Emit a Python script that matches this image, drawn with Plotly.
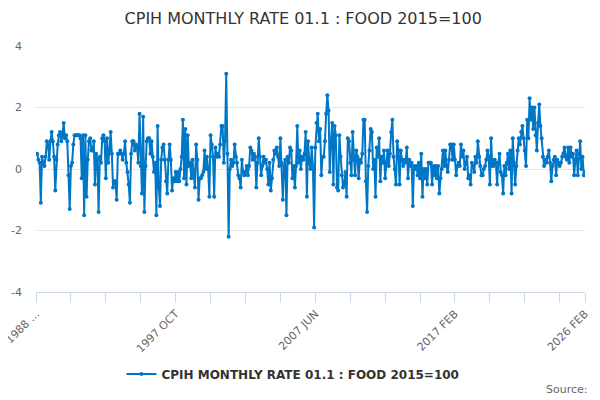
import plotly.graph_objects as go

MONTHS = ["JAN", "FEB", "MAR", "APR", "MAY", "JUN",
          "JUL", "AUG", "SEP", "OCT", "NOV", "DEC"]

# monthly rate (%), one list per year
y1988 = [0.5, 0.5, 0.3, 0.2, -1.1, 0.4, 0.2, 0.1, 0.4, 0.9, 0.8]  # starts FEB
y1989 = [0.3, 0.9, 1.2, 0.9, 0.4, -0.7, 0.3, 0.8, 1.1, 1.2, 0.9, 1.1]
y1990 = [1.5, 1.0, 1.1, 0.9, -0.2, -1.3, 0.1, 0.2, 0.8, 1.1, 1.1, 1.1]
y1991 = [1.1, 1.1, 1.0, -0.3, 1.1, -1.5, 1.1, -0.9, 0.3, 0.9, 1.0, 0.6]
y1992 = [0.6, 0.9, -0.5, 0.5, 0.3, -1.4, 0.4, 0.2, 1.0, 1.1, 0.9, -0.3]
y1993 = [1.0, 0.2, 0.6, 1.2, 0.5, -0.6, -0.4, -0.4, -1.0, 0.5, 0.5, 0.6]
y1994 = [0.5, 0.3, 0.5, 0.9, 0.2, -0.1, -0.5, -1.1, 0.5, 0.9, 0.9, 0.6]
y1995 = [0.8, 0.7, 0.2, 1.8, 0.1, -0.8, 1.7, -1.4, 0.1, 0.9, 1.0, 1.0]
y1996 = [0.5, 0.9, 0.4, -0.1, 0.2, -1.5, 1.4, -0.6, -1.2, 0.3, 0.7, 0.8]
y1997 = [0.3, -0.4, -0.8, 0.3, 0.8, 0.3, -0.7, -0.3, -0.4, -0.1, -0.4, -0.1]
y1998 = [-0.4, 0.0, 0.4, 1.6, -0.3, 1.3, -0.5, 1.1, 0.1, 0.2, -0.3, 0.3]
y1999 = [-0.2, -0.6, 0.8, 0.3, -1.0, -0.3, -0.3, -0.2, -0.1, 0.6, 0.0, 0.4]
y2000 = [0.0, -0.9, 1.1, 0.8, 0.4, -0.9, 0.7, 0.4, 0.5, 0.4, 0.8, 1.4]
y2001 = [1.4, 0.2, 0.9, 3.1, 0.5, -2.2, 0.0, 0.3, 0.1, 0.2, 0.8, 0.4]
y2002 = [0.2, -0.2, -0.3, -0.6, 0.3, -0.1, -0.2, -0.1, 0.1, -0.2, 0.1, 0.7]
y2003 = [0.6, 0.3, 0.5, 0.4, -0.6, 0.2, 1.0, 0.4, -0.2, 0.1, 0.4, 0.2]
y2004 = [0.3, 0.0, -0.5, 0.2, -0.7, -0.3, 0.3, 0.6, 0.5, 0.7, 0.4, 0.1]
y2005 = [1.0, 0.2, -1.0, 0.1, 0.3, -1.5, 0.4, 0.2, 0.7, 0.6, -0.3, 0.1]
y2006 = [-0.6, 0.1, 1.4, 0.2, 0.6, 0.0, 0.4, 0.3, 0.5, 1.2, -0.9, 0.9]
y2007 = [0.2, 0.0, 0.7, 0.1, -1.9, 0.7, 1.5, 1.8, 0.9, 1.3, -0.2, 0.4]
y2008 = [0.4, 0.9, 1.8, 2.4, 1.9, -0.1, 0.9, 1.5, -0.5, 1.4, 1.1, -0.6]
y2009 = [-0.7, 1.1, 0.4, -0.2, -0.6, -0.5, -0.1, -0.9, 1.0, 0.9, 0.2, -0.2]
y2010 = [1.2, 0.3, -0.2, 0.6, 0.4, -0.3, 0.3, 0.2, 0.5, 1.6, 1.6, -0.4]
y2011 = [-1.4, 0.1, 0.6, 1.3, 1.2, 0.0, 0.3, -0.9, 0.7, 0.4, 1.0, -0.4]
y2012 = [0.4, 0.2, 0.6, -0.3, 0.2, 0.6, 0.1, 0.5, 1.2, 1.6, 0.4, 0.0]
y2013 = [-0.5, 0.9, 0.6, -0.5, 0.6, 0.3, 0.1, 0.3, 0.2, 0.7, -0.3, 0.3]
y2014 = [0.1, 0.2, -1.2, 0.1, 0.0, 0.1, -0.2, 0.2, -0.3, 0.5, -0.9, 0.0]
y2015 = [-0.3, 0.0, -0.5, 0.2, 0.2, 0.2, -0.5, 0.1, -0.2, 0.1, -0.3, 0.1]
y2016 = [-0.8, -0.3, 0.0, 0.6, 0.1, 0.6, 0.1, -0.1, 0.3, 0.8, 0.8, 0.3]
y2017 = [0.8, 0.3, -0.2, 0.1, 0.2, 0.1, 0.8, 0.4, 0.6, 0.0, 0.2, 0.4]
y2018 = [-0.3, -0.2, -0.5, 0.2, 0.1, -0.1, 0.4, 0.2, 0.9, 0.4, 0.1, -0.2]
y2019 = [-0.2, 0.0, 0.1, 0.3, 0.6, 0.4, -0.5, 1.0, 0.1, 0.1, 0.3, 0.2]
y2020 = [-0.5, 0.2, 0.5, -0.1, -0.2, -0.8, 0.1, -0.2, 0.2, 0.5, 0.0, 0.6]
y2021 = [-0.8, 1.0, 0.2, -0.5, 0.1, 0.6, 1.0, 0.8, 1.2, 1.4, 1.0, 0.6]
y2022 = [0.1, 1.6, 1.0, 2.3, 1.6, 2.0, 1.3, 2.0, 1.1, 0.6, 1.5, 2.1]
y2023 = [1.4, 1.0, 0.4, 0.1, 0.3, 0.2, 0.4, 0.6, 0.2, -0.4, 0.1, 0.3]
y2024 = [0.4, -0.2, 0.3, 0.2, 0.1, 0.2, 0.4, 0.5, 0.7, 0.4, 0.3, 0.7]
y2025 = [0.2, 0.7, 0.4, 0.5, -0.2, 0.3, 0.6, -0.2, 0.5, 0.9, 0.0, 0.4]
y2026 = [-0.2, -0.1]  # JAN, FEB

years = {1988: y1988, 1989: y1989, 1990: y1990, 1991: y1991, 1992: y1992,
         1993: y1993, 1994: y1994, 1995: y1995, 1996: y1996, 1997: y1997,
         1998: y1998, 1999: y1999, 2000: y2000, 2001: y2001, 2002: y2002,
         2003: y2003, 2004: y2004, 2005: y2005, 2006: y2006, 2007: y2007,
         2008: y2008, 2009: y2009, 2010: y2010, 2011: y2011, 2012: y2012,
         2013: y2013, 2014: y2014, 2015: y2015, 2016: y2016, 2017: y2017,
         2018: y2018, 2019: y2019, 2020: y2020, 2021: y2021, 2022: y2022,
         2023: y2023, 2024: y2024, 2025: y2025, 2026: y2026}

dates = []
values = []
for yr, vals in years.items():
    first = 1 if yr == 1988 else 0
    for k, v in enumerate(vals):
        dates.append(str(yr) + " " + MONTHS[first + k])
        values.append(v)

# ticks every 29 months, label every 4th tick, plus the last month
tick_idx = list(range(0, len(dates), 29)) + [len(dates) - 1]
tick_text = []
for n, i in enumerate(tick_idx):
    if i == 0:
        tick_text.append("1988 ...")
    elif n % 4 == 0 or i == len(dates) - 1:
        tick_text.append(dates[i])
    else:
        tick_text.append("")

y_ticks = [-4, -2, 0, 2, 4]

SERIES = "CPIH MONTHLY RATE 01.1 : FOOD 2015=100"
BLUE = "#0076C6"

fig = go.Figure()
fig.add_trace(go.Scatter(x=dates, y=values, mode="lines+markers", name=SERIES,
                         line=dict(color=BLUE, width=2),
                         marker=dict(color=BLUE, size=4)))

# page body has an 8px margin, so the margins are shifted up/left by 8
fig.update_layout(
    width=600, height=400,
    margin=dict(l=28, r=23, t=38, b=116),
    paper_bgcolor="white", plot_bgcolor="white",
    font=dict(family="DejaVu Sans", color="#666666", size=11),
    title=dict(text=SERIES, x=0.492, xanchor="center", y=0.975, yanchor="middle",
               font=dict(size=16, color="#333333")),
    showlegend=True,
    legend=dict(orientation="h", x=0.468, xanchor="center", y=-0.333, yanchor="middle",
                itemwidth=30,
                font=dict(size=12, color="#333333", weight="bold")),
)
fig.update_xaxes(type="category", range=[0, len(dates) - 1], automargin=False,
                 tickmode="array", tickvals=[dates[i] for i in tick_idx], ticktext=tick_text,
                 tickangle=-45, ticks="outside", ticklen=10, tickcolor="#ccd6eb",
                 showline=True, linecolor="#ccd6eb", showgrid=False,
                 tickfont=dict(size=11, color="#666666"))
fig.update_yaxes(range=[-4, 4], tickvals=y_ticks, ticktext=[str(t) for t in y_ticks],
                 automargin=False, showgrid=True, gridcolor="#e6e6e6",
                 zeroline=False, showline=False, ticklabelstandoff=13,
                 tickfont=dict(size=11, color="#666666"))
fig.add_annotation(text="Source:", xref="paper", yref="paper", x=1.009, y=-0.398,
                   xanchor="right", yanchor="middle", showarrow=False,
                   font=dict(size=11, color="#666666"))

fig.write_html("out.html")
